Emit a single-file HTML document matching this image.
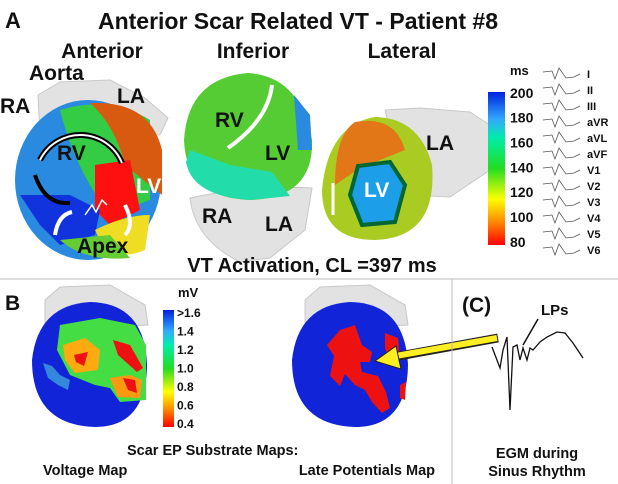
<!DOCTYPE html>
<html><head><meta charset="utf-8"><style>
body{margin:0;background:#fff;width:618px;height:484px;overflow:hidden}
svg{display:block}
text{font-family:"Liberation Sans",sans-serif;fill:#111}
.b{font-weight:bold}
</style></head><body>
<svg id="fig" width="618" height="484" viewBox="0 0 618 484">
<defs>
<linearGradient id="msbar" x1="0" y1="1" x2="0" y2="0">
<stop offset="0" stop-color="#ff0000"/><stop offset="0.15" stop-color="#ff8800"/><stop offset="0.3" stop-color="#ffff00"/><stop offset="0.5" stop-color="#22dd22"/><stop offset="0.7" stop-color="#00eeaa"/><stop offset="0.82" stop-color="#33aaff"/><stop offset="1" stop-color="#0022dd"/>
</linearGradient>
</defs>
<!-- Panel A -->
<text x="5" y="28" font-size="22" class="b">A</text>
<text x="298" y="29" font-size="23" text-anchor="middle" class="b">Anterior Scar Related VT - Patient #8</text>
<text x="102" y="58" font-size="21" text-anchor="middle" class="b">Anterior</text>
<text x="253" y="58" font-size="21" text-anchor="middle" class="b">Inferior</text>
<text x="402" y="58" font-size="21" text-anchor="middle" class="b">Lateral</text>

<g>
<path d="M38,95 L60,82 L110,80 L145,98 L168,118 L160,135 L40,135 Z" fill="#e2e2e2" stroke="#c8c8c8"/>
<ellipse cx="88" cy="180" rx="73" ry="80" fill="#2a8ae0"/>
<path d="M60,110 Q110,95 150,120 L150,200 L110,215 Q75,170 60,110Z" fill="#33cc44"/>
<path d="M90,103 Q150,100 162,150 L162,195 L125,165 Q115,125 90,103Z" fill="#d85a10"/>
<path d="M95,165 L130,160 L140,210 L110,225 L95,210 Z" fill="#ff1010"/>
<path d="M20,195 L70,195 L100,210 L95,235 L60,245 L40,225Z" fill="#1133dd"/>
<path d="M95,230 Q125,215 150,215 L145,250 Q110,265 95,230Z" fill="#eedd22"/>
<path d="M60,240 Q85,262 130,258 L110,235Z" fill="#66cc33"/>
<path d="M40,160 A45,45 0 0 1 122,163" fill="none" stroke="#000" stroke-width="6"/>
<path d="M40,160 A45,45 0 0 1 122,163" fill="none" stroke="#fff" stroke-width="2"/>
<path d="M35,175 Q45,205 70,203" fill="none" stroke="#000" stroke-width="4"/>
<path d="M55,235 Q58,215 72,212" fill="none" stroke="#fff" stroke-width="4"/>
<path d="M125,205 Q135,225 125,235" fill="none" stroke="#fff" stroke-width="4"/>
<polyline points="85,215 92,205 96,212 102,200 107,205" fill="none" stroke="#fff" stroke-width="1.5"/>
</g>
<text x="29" y="80" font-size="21" class="b">Aorta</text>
<text x="0" y="113" font-size="21" class="b">RA</text>
<text x="117" y="103" font-size="21" class="b">LA</text>
<text x="57" y="160" font-size="21" class="b">RV</text>
<text x="136" y="193" font-size="21" class="b" style="fill:#fff">LV</text>
<text x="77" y="253" font-size="21" class="b">Apex</text>

<g>
<path d="M190,198 Q250,185 312,188 L305,230 L270,258 L240,262 Q195,240 190,198Z" fill="#e2e2e2" stroke="#c8c8c8"/>
<path d="M248,73 Q300,76 312,140 Q314,198 250,200 Q186,198 184,140 Q188,78 248,73Z" fill="#55cc33"/>
<path d="M186,162 Q192,196 250,200 L290,196 L272,172 L230,165 L190,150Z" fill="#22ddaa"/>
<path d="M294,95 L310,115 L312,150 L298,150Z" fill="#2a8ae0"/>
<path d="M272,85 Q268,120 228,148" fill="none" stroke="#fff" stroke-width="4"/>
</g>
<text x="215" y="127" font-size="21" class="b">RV</text>
<text x="265" y="160" font-size="21" class="b">LV</text>
<text x="202" y="223" font-size="21" class="b">RA</text>
<text x="265" y="231" font-size="21" class="b">LA</text>

<g>
<path d="M385,110 L420,108 L470,112 L505,135 L490,170 L450,197 L410,195 L395,150Z" fill="#e2e2e2" stroke="#c8c8c8"/>
<path d="M375,117 Q420,118 432,165 Q438,238 375,240 Q322,240 322,190 Q328,125 375,117Z" fill="#aacc22"/>
<path d="M355,122 Q395,115 405,150 L360,168 L335,185 Q335,135 355,122Z" fill="#e27718"/>
<path d="M358,166 L390,162 L405,185 L395,222 L362,225 L350,195Z" fill="#1c9fe8" stroke="#063" stroke-width="4"/>
<path d="M333,183 L333,215" stroke="#fff" stroke-width="3"/>
</g>
<text x="426" y="150" font-size="21" class="b">LA</text>
<text x="364" y="197" font-size="21" class="b" style="fill:#fff">LV</text>

<text x="510" y="75" font-size="13" class="b">ms</text>
<rect x="488" y="92" width="17" height="153" fill="url(#msbar)"/>
<g id="msTicks"></g>
<g id="ecg"></g>

<text x="312" y="272" font-size="20" text-anchor="middle" class="b">VT Activation, CL =397 ms</text>
<line x1="0" y1="279" x2="618" y2="279" stroke="#bbb" stroke-width="1"/>

<!-- Panel B -->
<text x="5" y="310" font-size="21" class="b">B</text>
<g>
<path d="M45,300 L60,287 L110,285 L145,305 L148,325 L45,330Z" fill="#e2e2e2" stroke="#c8c8c8"/>
<path d="M90,302 Q145,303 147,365 Q146,427 95,427 Q32,425 32,360 Q38,305 90,302Z" fill="#1224d8"/>
<path d="M60,325 L100,318 L135,325 L146,345 L146,400 L120,402 L110,388 L95,385 L70,375 L57,350Z" fill="#44dd44"/>
<path d="M63,345 L85,338 L100,350 L98,370 L75,373 L65,360Z" fill="#ffaa11"/>
<path d="M74,355 L88,352 L84,366 L76,362Z" fill="#ee1111"/>
<path d="M113,340 L130,345 L143,368 L137,372 L118,355Z" fill="#ee1111"/>
<path d="M110,378 L130,375 L142,380 L140,398 L118,397Z" fill="#ff9911"/>
<path d="M123,378 L135,380 L137,393 L128,390Z" fill="#ee1111"/>
<path d="M43,363 L52,366 L60,375 L70,380 L68,390 L58,385 L48,378Z" fill="#3388dd"/>
</g>
<text x="178" y="297" font-size="13" class="b">mV</text>
<rect x="163" y="310" width="11" height="117" fill="url(#msbar)"/>
<g id="mvTicks"></g>

<g>
<path d="M305,300 L320,287 L370,285 L405,305 L408,325 L305,330Z" fill="#e2e2e2" stroke="#c8c8c8"/>
<path d="M350,302 Q405,303 408,365 Q407,427 355,427 Q292,425 292,360 Q298,305 350,302Z" fill="#1224d8"/>
<path d="M340,330 L355,325 L362,345 L372,352 L370,362 L360,362 L362,372 L378,376 L386,392 L390,408 L382,413 L372,402 L365,390 L355,385 L345,374 L340,386 L330,376 L334,356 L327,345Z" fill="#ee1111"/>
<path d="M385,333 L398,338 L400,360 L390,362 L385,348Z" fill="#ee1111"/>
<path d="M400,385 L406,382 L405,400 L400,398Z" fill="#ee1111"/>
<line x1="498" y1="338" x2="388" y2="358" stroke="#222" stroke-width="9"/>
<line x1="497" y1="338" x2="390" y2="357" stroke="#ffee22" stroke-width="6"/>
<polygon points="375,361 396,346 401,369" fill="#ffee22" stroke="#222" stroke-width="1"/>
</g>

<text x="127" y="455" font-size="14.5" class="b">Scar EP Substrate Maps:</text>
<text x="43" y="475" font-size="14.5" class="b">Voltage Map</text>
<text x="435" y="475" font-size="14.5" class="b" text-anchor="end">Late Potentials Map</text>

<line x1="452" y1="279" x2="452" y2="484" stroke="#bbb"/>
<text x="462" y="312" font-size="21" class="b">(C)</text>
<text x="541" y="315" font-size="15" class="b">LPs</text>
<line x1="538" y1="319" x2="523" y2="345" stroke="#111" stroke-width="1.5"/>
<polyline points="492,347 500,368 503,350 507,337 510,410 513,347 517,345 520,360 523,348 527,360 530,348 533,350 540,342 547,337 557,332 565,333 573,343 583,358" fill="none" stroke="#111" stroke-width="1.3"/>
<text x="537" y="458" font-size="14.5" text-anchor="middle" class="b">EGM during</text>
<text x="537" y="476" font-size="14.5" text-anchor="middle" class="b">Sinus Rhythm</text>
</svg>
<script>
const msTickLabels=["200","180","160","140","120","100","80"];
const mvTickLabels=[">1.6","1.4","1.2","1.0","0.8","0.6","0.4"];
const ecgLeads=["I","II","III","aVR","aVL","aVF","V1","V2","V3","V4","V5","V6"];
const NS="http://www.w3.org/2000/svg";
function ticks(id,labels,x,y0,y1,fs){
  const g=document.getElementById(id);
  labels.forEach((l,i)=>{
    const t=document.createElementNS(NS,'text');
    
    
    t.setAttribute('x',x);
    t.setAttribute('y',y0+(y1-y0)*i/(labels.length-1)+fs*0.35);
    t.setAttribute('font-size',fs);
    t.setAttribute('font-weight','bold');
    t.textContent=l;g.appendChild(t);
  });
}
ticks('msTicks',msTickLabels,510,93,242,14);
ticks('mvTicks',mvTickLabels,177,313,424,12);
const eg=document.getElementById('ecg');
ecgLeads.forEach((l,i)=>{
  const y=74+i*16;
  const p=document.createElementNS(NS,'polyline');
  
  
  p.setAttribute('points',`${543},${y-2} ${552},${y-3} ${555},${y+5} ${559},${y-6} ${566},${y+4} ${574},${y+3} ${580},${y}`);
  p.setAttribute('fill','none');p.setAttribute('stroke','#555');p.setAttribute('stroke-width','0.8');
  eg.appendChild(p);
  const t=document.createElementNS(NS,'text');
  
  
  t.setAttribute('x',587);t.setAttribute('y',y+4);t.setAttribute('font-size','11');
  t.setAttribute('font-weight','bold');
  t.textContent=l;eg.appendChild(t);
});
</script>
</body></html>
